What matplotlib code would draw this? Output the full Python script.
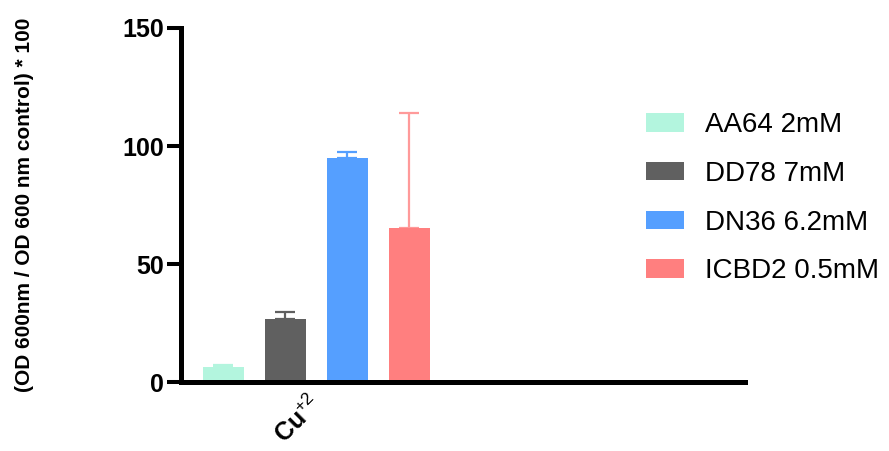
import matplotlib
matplotlib.use("Agg")
import matplotlib.pyplot as plt
import numpy as np
from matplotlib.patches import Patch

plt.rcParams['font.family'] = ['Liberation Sans', 'DejaVu Sans']
plt.rcParams['mathtext.fontset'] = 'custom'
plt.rcParams['mathtext.rm'] = 'Liberation Sans'
plt.rcParams['mathtext.it'] = 'Liberation Sans'
plt.rcParams['mathtext.bf'] = 'Liberation Sans:bold'

series = ["AA64 2mM", "DD78 7mM", "DN36 6.2mM", "ICBD2 0.5mM"]
means = [6.4, 26.7, 94.9, 65.3]
errs = [0.8, 3.0, 2.6, 48.7]
colors = ["#B3F5DE", "#606060", "#559FFF", "#FF7F7F"]
err_colors = ["#B3F5DE", "#606060", "#559FFF", "#FF9A9A"]
group_label = "Cu$^{+2}$"
yticks = [0, 50, 100, 150]
ylabel = "(OD 600nm / OD 600 nm control) * 100"

fig = plt.figure(figsize=(8.89, 4.51), dpi=100)
ax = fig.add_axes([181/889, 1-382/451, (745-181)/889, (382-28)/451])

x = np.arange(len(series))
for i in range(len(series)):
    ax.bar(x[i], means[i], width=0.66, color=colors[i], zorder=2)
    ax.errorbar(x[i], means[i], yerr=[[0], [errs[i]]], fmt='none',
                ecolor=err_colors[i], elinewidth=1.6, capsize=7, capthick=1.6, zorder=1)

ax.set_xlim(-0.68, 8.42)
ax.set_ylim(0, 150)
ax.set_yticks(yticks)
ax.set_yticklabels([str(v) for v in yticks], fontsize=18, fontweight='bold')
ax.set_xticks([1.5 + 0.17])
ax.set_xticklabels([group_label], fontsize=18, fontweight='bold', rotation=45, ha='right')
ax.tick_params(axis='x', length=0, pad=6)
ax.tick_params(axis='y', length=10, width=2.9, pad=2)
for s in ['top', 'right']:
    ax.spines[s].set_visible(False)
for s in ['left', 'bottom']:
    ax.spines[s].set_linewidth(3.6)
ax.spines['left'].set_capstyle('projecting')
ax.spines['bottom'].set_capstyle('projecting')

ax.set_ylabel(ylabel, fontsize=15, fontweight='bold', va='center')
ax.yaxis.set_label_coords(-0.2766, 0.5)

handles = [Patch(facecolor=c, edgecolor='none') for c in colors]
fig.legend(handles, series, loc='upper left', bbox_to_anchor=(646/889, 1-112/451),
           frameon=False, fontsize=20, handlelength=1.37, handleheight=0.65,
           handletextpad=0.75, labelspacing=0.82, borderpad=0, borderaxespad=0)

fig.savefig("out.png", dpi=100)
